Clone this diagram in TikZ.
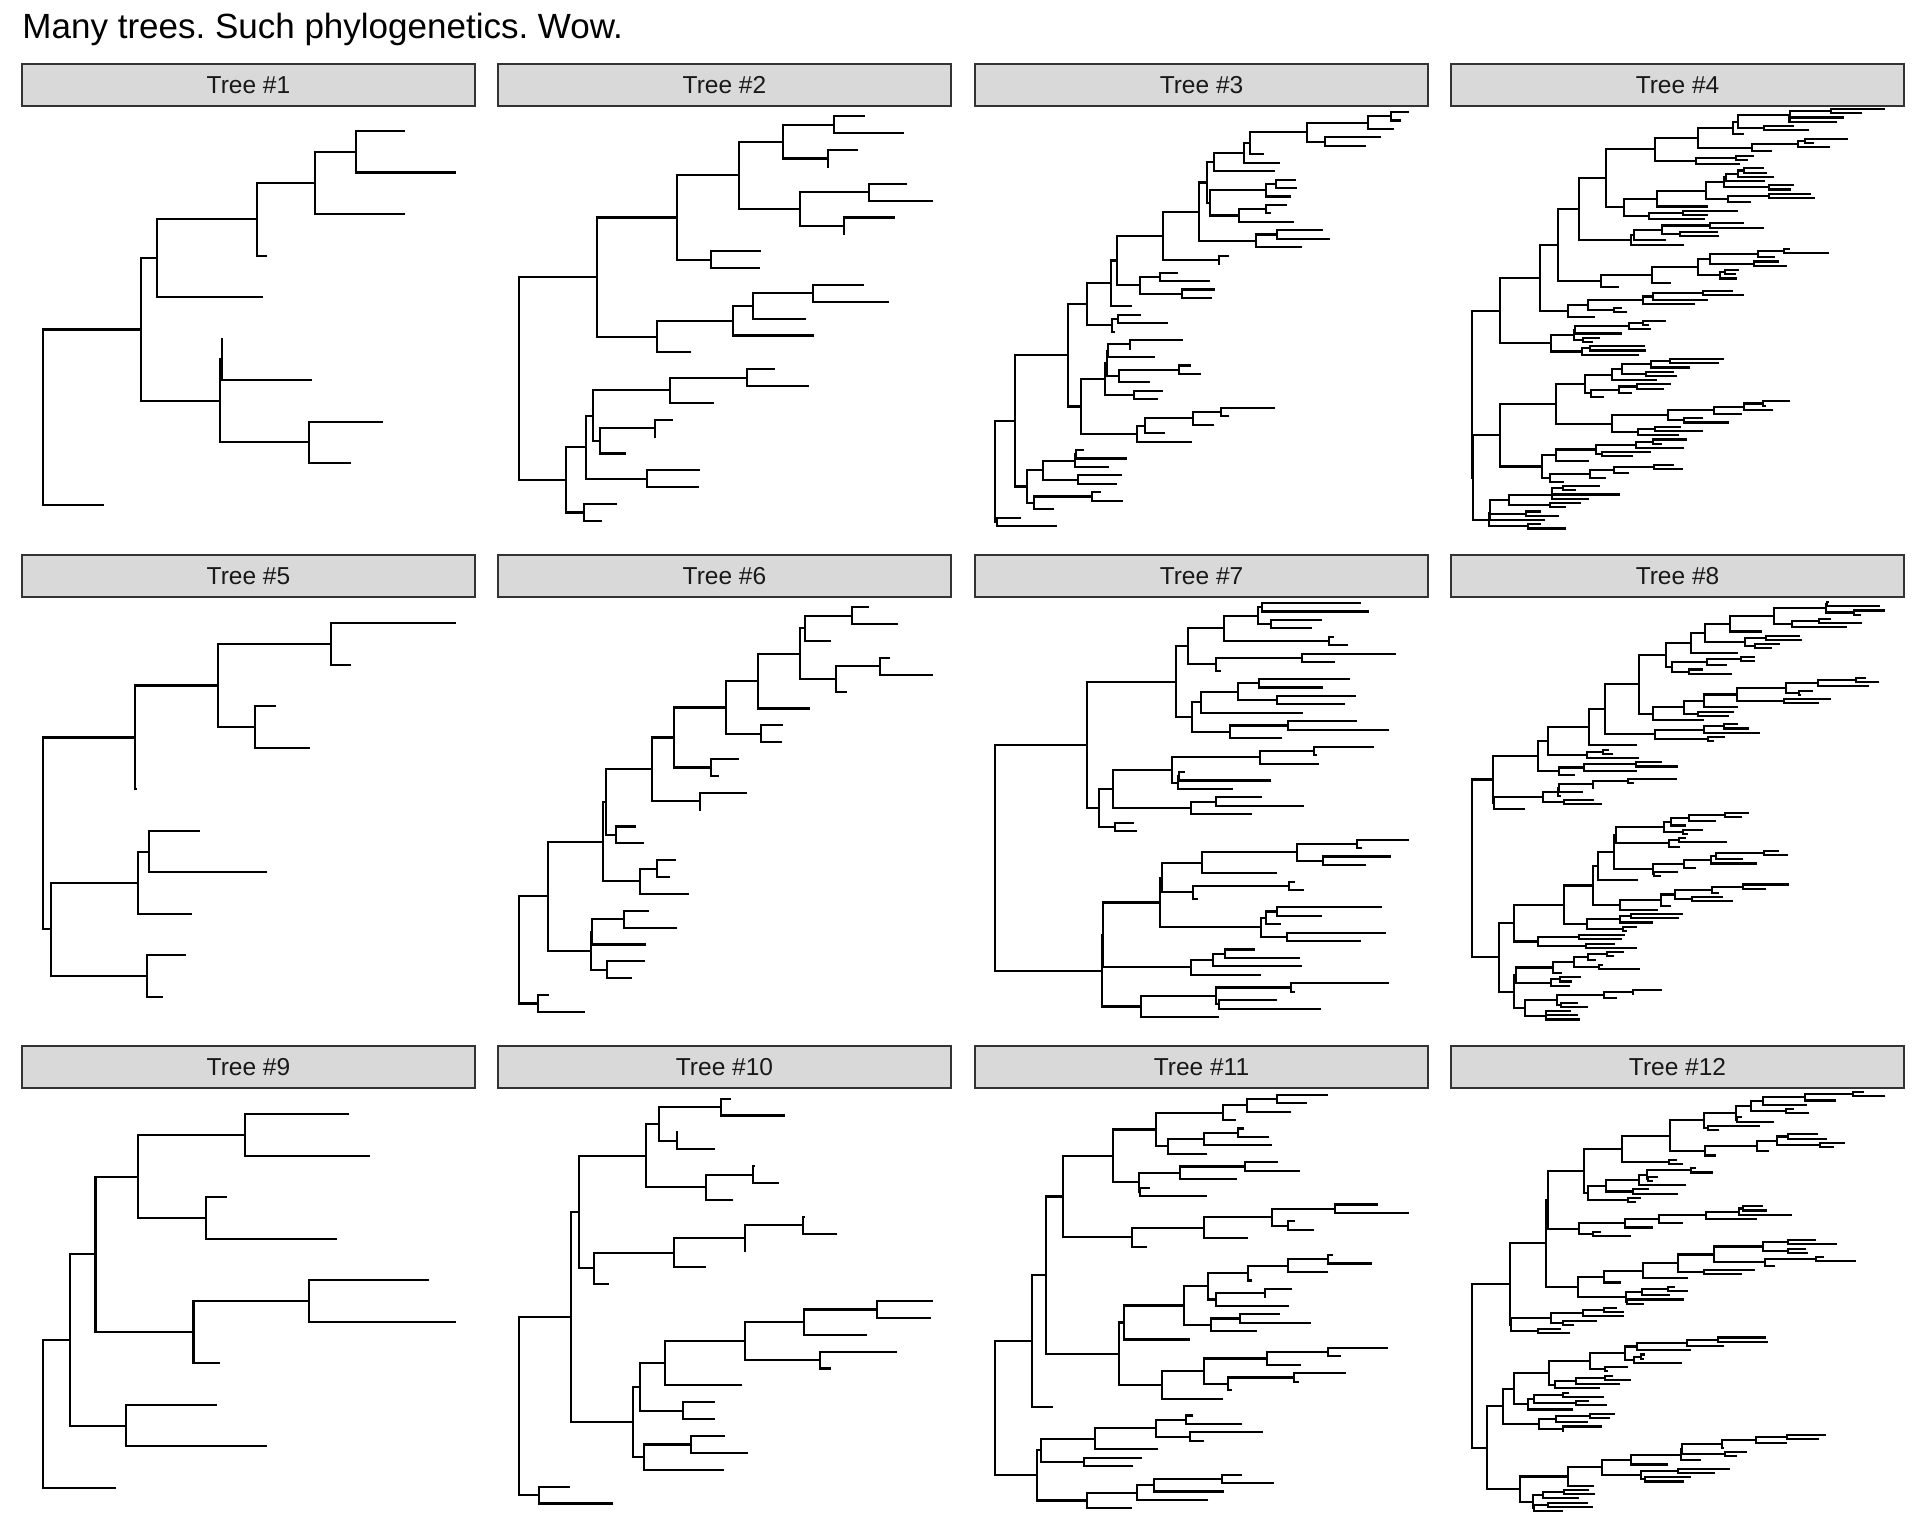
\documentclass[tikz,border=0pt]{standalone}
\usepackage{fontspec}
\setmainfont{Liberation Sans}
\frenchspacing
\definecolor{stripfill}{HTML}{D9D9D9}
\definecolor{stripdraw}{HTML}{333333}
\newcount\tipn
\def\tstk{}
\def\tystart{0}
\def\tystep{1}
\newcommand\TreeInit[2]{\def\tystart{#1}\def\tystep{#2}\global\tipn=0 \def\tstk{}}
\newcommand\lf[1]{\pgfmathsetmacro\tmpy{\tystart+\the\tipn*\tystep}\global\advance\tipn by 1 \edef\tstk{{#1}{\tmpy}\tstk}}
\newcommand\nd[1]{\expandafter\popN\tstk\relax{#1}}
\def\popN#1#2#3#4#5\relax#6{\draw[treeline] (#1,#2) -| (#6,#4) -- (#3,#4);\pgfmathsetmacro\tmpy{(#2+#4)/2}\edef\tstk{{#6}{\tmpy}#5}}
\tikzset{
  treeline/.style={line width=0.85pt, line cap=butt, line join=miter, black},
  strip/.style={fill=stripfill, draw=stripdraw, line width=0.5pt},
  striptext/.style={font=\fontsize{9.8}{11}\selectfont, inner sep=0pt, text=black!90},
}
\begin{document}
\begin{tikzpicture}[x=0.4pt,y=-0.4pt]
\fill[white] (0,0) rectangle (1920,1536);
\useasboundingbox (0,0) rectangle (1920,1536);
\node[anchor=base west, inner sep=0pt, font=\fontsize{14}{16}\selectfont] (title) at (22,38) {Many trees. Such phylogenetics. Wow.};
\foreach \c/\xa in {0/22,1/498,2/975,3/1451}{
 \foreach \r/\ya in {0/64,1/555,2/1046}{
  \pgfmathtruncatemacro\n{\r*4+\c+1}
  \draw[strip] (\xa,\ya) rectangle ++(453,42);
  \node[striptext] (h\n) at (\xa+226.5,\ya+21) {Tree \#\n};
 }}
% ---- Tree 1
\begin{scope}[scale=1.2245]
\TreeInit{107}{33.9}
\lf{331}\lf{372}\nd{291}\lf{331}\nd{257}\lf{218}\nd{210}\lf{215}\nd{128}\lf{182}\lf{255}\nd{181}\lf{313}\lf{287}\nd{252}\nd{180}\nd{115}\lf{85}\nd{35}
\end{scope}
% ---- Tree 5
\begin{scope}[scale=1.2245]
\TreeInit{509}{33.9}
\lf{372}\lf{287}\nd{270}\lf{225}\lf{253}\nd{208}\nd{178}\lf{112}\nd{110}\lf{163}\lf{218}\nd{122}\lf{157}\nd{113}\lf{152}\lf{133}\nd{120}\nd{42}\nd{35}
\end{scope}
% ---- Tree 9
\begin{scope}[scale=1.2245]
\TreeInit{910}{33.9}
\lf{285}\lf{302}\nd{200}\lf{185}\lf{275}\nd{168}\nd{113}\lf{350}\lf{372}\nd{252}\lf{180}\nd{158}\nd{78}\lf{177}\lf{218}\nd{103}\nd{57}\lf{95}\nd{35}
\end{scope}
% ---- Tree 2
\begin{scope}[shift={(498,110)},scale=1/3]
\TreeInit{19}{50.58}
\lf{1100}\lf{1218}\nd{1008}\lf{1080}\lf{993}\nd{990}\nd{856}\lf{1228}\lf{1305}\nd{1113}\lf{1192}\lf{1041}\nd{1038}\nd{905}\nd{722}\lf{790}\lf{786}\nd{639}\nd{538}\lf{1098}\lf{1173}\nd{945}\lf{925}\nd{765}\lf{948}\nd{706}\lf{578}\nd{476}\nd{298}\lf{832}\lf{932}\nd{747}\lf{647}\nd{516}\lf{526}\lf{472}\nd{471}\lf{383}\nd{305}\nd{284}\lf{605}\lf{603}\nd{447}\nd{263}\lf{357}\lf{312}\nd{258}\nd{204}\nd{62}
\end{scope}
% ---- Tree 6
\begin{scope}[shift={(498,601)},scale=1/3]
\TreeInit{19}{50.58}
\lf{1112}\lf{1200}\nd{1062}\lf{1000}\nd{922}\lf{1177}\lf{1305}\nd{1147}\lf{1046}\nd{1013}\nd{907}\lf{935}\nd{779}\lf{855}\lf{853}\nd{789}\nd{684}\lf{722}\lf{662}\nd{640}\nd{527}\lf{747}\lf{609}\nd{606}\nd{461}\lf{413}\lf{438}\nd{353}\nd{323}\lf{533}\lf{515}\nd{477}\lf{573}\nd{427}\nd{314}\lf{453}\lf{537}\nd{379}\lf{443}\nd{283}\lf{440}\lf{401}\nd{326}\nd{278}\nd{150}\lf{152}\lf{260}\nd{121}\nd{62}
\end{scope}
% ---- Tree 10
\begin{scope}[shift={(498,1092)},scale=1/3]
\TreeInit{20}{50.6}
\lf{700}\lf{862}\nd{669}\lf{540}\lf{652}\nd{537}\nd{484}\lf{770}\lf{842}\nd{766}\lf{705}\nd{625}\nd{443}\lf{920}\lf{1017}\nd{916}\lf{744}\nd{742}\lf{625}\nd{527}\lf{333}\nd{288}\nd{242}\lf{1305}\lf{1298}\nd{1136}\lf{1108}\nd{918}\lf{1197}\lf{1000}\nd{967}\nd{742}\lf{733}\nd{501}\lf{652}\lf{650}\nd{556}\nd{425}\lf{682}\lf{750}\nd{578}\lf{678}\nd{438}\nd{404}\nd{220}\lf{215}\lf{345}\nd{124}\nd{62}
\end{scope}
% ---- Tree 3
\begin{scope}[shift={(975,110)},scale=1/3]
\TreeInit{6}{25.35}
\lf{1303}\lf{1277}\nd{1248}\lf{1258}\nd{1178}\lf{1218}\lf{1172}\nd{1050}\nd{995}\lf{868}\nd{825}\lf{915}\nd{808}\lf{900}\nd{718}\lf{962}\lf{965}\nd{903}\lf{948}\nd{873}\lf{937}\lf{887}\nd{873}\lf{956}\nd{792}\nd{705}\nd{697}\lf{1043}\lf{1065}\nd{907}\lf{982}\nd{843}\nd{672}\lf{763}\lf{733}\nd{731}\nd{563}\lf{610}\lf{706}\nd{555}\lf{719}\lf{710}\nd{620}\nd{496}\nd{425}\lf{470}\nd{408}\lf{497}\lf{578}\nd{428}\lf{420}\nd{411}\nd{336}\lf{625}\lf{468}\nd{465}\lf{540}\nd{400}\lf{648}\lf{677}\nd{612}\lf{525}\nd{433}\nd{396}\lf{565}\lf{548}\nd{477}\nd{390}\lf{900}\lf{763}\nd{737}\lf{718}\nd{655}\lf{570}\nd{510}\lf{650}\nd{487}\nd{318}\nd{278}\lf{326}\lf{455}\nd{302}\lf{402}\nd{300}\lf{440}\lf{425}\nd{308}\nd{205}\lf{378}\lf{443}\nd{350}\lf{237}\nd{178}\nd{155}\nd{120}\lf{138}\lf{245}\nd{66}\nd{60}
\end{scope}
% ---- Tree 7
\begin{scope}[shift={(975,601)},scale=1/3]
\TreeInit{6}{25.35}
\lf{1157}\lf{1182}\nd{862}\lf{1040}\lf{1012}\nd{888}\nd{848}\lf{1078}\lf{1118}\nd{1063}\nd{748}\lf{1262}\lf{1080}\nd{982}\lf{738}\nd{724}\nd{640}\lf{1125}\lf{1043}\nd{852}\lf{1142}\lf{1110}\nd{907}\nd{790}\lf{983}\nd{678}\lf{1147}\lf{1243}\nd{940}\lf{922}\nd{765}\nd{652}\nd{604}\lf{1197}\lf{1025}\nd{1017}\lf{1032}\nd{856}\lf{630}\lf{889}\nd{612}\lf{773}\nd{610}\nd{592}\lf{862}\lf{987}\nd{722}\lf{832}\nd{648}\nd{415}\lf{478}\lf{487}\nd{420}\nd{372}\nd{335}\lf{1303}\lf{1160}\nd{1147}\lf{1247}\lf{1172}\nd{1043}\nd{967}\lf{905}\nd{680}\lf{960}\lf{988}\nd{943}\lf{668}\nd{655}\nd{562}\lf{1220}\lf{1040}\nd{905}\lf{918}\nd{873}\lf{1232}\lf{1157}\nd{935}\nd{857}\nd{555}\lf{840}\lf{975}\nd{750}\lf{980}\nd{715}\lf{857}\nd{648}\nd{385}\lf{1243}\lf{960}\nd{947}\lf{905}\lf{1037}\nd{733}\nd{722}\lf{733}\nd{497}\nd{380}\nd{60}
\end{scope}
% ---- Tree 11
\begin{scope}[shift={(975,1092)},scale=1/3]
\TreeInit{8}{25.33}
\lf{1060}\lf{995}\nd{905}\lf{948}\nd{815}\lf{782}\nd{745}\lf{808}\lf{883}\nd{788}\lf{892}\nd{688}\lf{697}\nd{578}\nd{542}\lf{908}\lf{975}\nd{810}\lf{785}\nd{616}\lf{525}\lf{695}\nd{495}\nd{492}\nd{415}\lf{1208}\lf{1302}\nd{1080}\lf{960}\lf{1018}\nd{940}\nd{890}\lf{818}\nd{687}\lf{517}\nd{472}\nd{263}\lf{1075}\lf{1190}\nd{1060}\lf{1060}\nd{940}\lf{832}\nd{818}\lf{952}\lf{872}\nd{870}\lf{942}\nd{722}\nd{700}\lf{915}\lf{1008}\nd{795}\lf{847}\nd{707}\nd{628}\lf{645}\nd{446}\lf{1240}\lf{1097}\nd{1058}\lf{978}\nd{877}\lf{1112}\lf{972}\nd{957}\lf{772}\nd{760}\nd{687}\lf{745}\nd{560}\nd{433}\nd{213}\lf{233}\nd{172}\lf{655}\lf{802}\nd{632}\lf{863}\lf{687}\nd{645}\nd{543}\lf{548}\nd{360}\lf{500}\lf{475}\nd{328}\nd{197}\lf{802}\lf{897}\nd{742}\lf{748}\nd{537}\lf{700}\nd{485}\lf{470}\nd{336}\nd{187}\nd{60}
\end{scope}
% ---- Tree 4
\begin{scope}[shift={(1451,105)},scale=1/3]
\TreeInit{12}{12.71}
\lf{1303}\lf{1233}\nd{1140}\lf{1178}\lf{1157}\nd{1015}\nd{1017}\lf{1030}\lf{1075}\nd{940}\nd{862}\lf{880}\nd{845}\lf{1190}\lf{1088}\nd{1062}\lf{1138}\nd{1040}\lf{962}\nd{903}\nd{740}\lf{908}\lf{890}\nd{855}\lf{868}\nd{735}\nd{613}\lf{938}\lf{948}\nd{880}\lf{968}\nd{860}\lf{943}\nd{825}\lf{1030}\lf{1020}\nd{955}\nd{820}\lf{1080}\lf{1093}\nd{955}\lf{900}\nd{830}\nd{765}\lf{770}\nd{617}\lf{862}\lf{770}\nd{695}\lf{763}\nd{595}\nd{520}\nd{465}\lf{878}\lf{940}\nd{777}\lf{800}\lf{805}\nd{688}\nd{632}\lf{645}\nd{550}\lf{700}\nd{540}\nd{383}\lf{1018}\lf{1135}\nd{1000}\lf{972}\nd{920}\lf{985}\lf{1007}\nd{910}\nd{778}\lf{865}\lf{855}\nd{822}\lf{858}\nd{808}\nd{740}\lf{660}\nd{603}\lf{503}\nd{450}\nd{320}\lf{845}\lf{878}\nd{755}\lf{770}\nd{607}\lf{733}\nd{575}\lf{512}\lf{528}\nd{490}\nd{410}\lf{433}\nd{352}\nd{267}\lf{645}\lf{595}\nd{575}\lf{600}\nd{533}\lf{512}\nd{372}\lf{447}\lf{425}\nd{397}\nd{369}\lf{583}\lf{585}\nd{418}\lf{565}\nd{393}\nd{300}\nd{148}\lf{818}\lf{805}\nd{657}\lf{718}\nd{600}\lf{668}\lf{678}\nd{585}\nd{512}\lf{617}\nd{483}\lf{660}\lf{640}\nd{557}\lf{543}\nd{503}\lf{458}\nd{420}\nd{403}\lf{1018}\lf{945}\nd{935}\lf{967}\nd{880}\lf{873}\nd{788}\lf{755}\lf{835}\nd{700}\nd{652}\lf{690}\lf{757}\nd{612}\lf{685}\nd{560}\nd{483}\nd{315}\lf{708}\lf{632}\nd{607}\lf{700}\nd{555}\lf{600}\lf{545}\nd{453}\nd{435}\lf{413}\nd{315}\lf{670}\lf{695}\nd{608}\lf{533}\nd{488}\lf{465}\nd{417}\lf{338}\nd{298}\nd{272}\nd{148}\lf{448}\lf{375}\nd{337}\lf{508}\nd{303}\lf{413}\nd{302}\lf{390}\lf{345}\nd{298}\nd{175}\lf{270}\lf{325}\nd{225}\nd{118}\lf{282}\nd{116}\lf{270}\lf{345}\nd{232}\nd{115}\nd{66}\nd{62}
\end{scope}
% ---- Tree 8
\begin{scope}[shift={(1451,596)},scale=1/3]
\TreeInit{18}{12.65}
\lf{1135}\lf{1288}\nd{1127}\lf{1303}\lf{1230}\nd{1210}\nd{1125}\lf{1140}\lf{1233}\nd{1105}\lf{1188}\nd{1023}\nd{970}\lf{933}\nd{838}\lf{1048}\lf{1053}\nd{945}\lf{988}\lf{963}\nd{913}\nd{883}\nd{763}\lf{860}\nd{720}\lf{912}\lf{912}\nd{870}\lf{828}\nd{768}\lf{755}\lf{843}\nd{713}\nd{663}\nd{645}\lf{1245}\lf{1285}\nd{1215}\lf{1253}\nd{1100}\lf{1085}\lf{1050}\nd{1045}\nd{1005}\lf{1140}\lf{1105}\nd{1000}\nd{857}\lf{860}\nd{760}\lf{850}\lf{833}\nd{740}\nd{700}\lf{758}\nd{605}\nd{565}\lf{862}\lf{893}\nd{820}\lf{928}\nd{760}\lf{822}\lf{790}\nd{770}\nd{612}\nd{463}\lf{557}\nd{413}\lf{473}\lf{485}\nd{457}\lf{565}\nd{407}\nd{290}\lf{632}\lf{682}\nd{555}\lf{558}\nd{400}\lf{372}\nd{325}\nd{262}\lf{678}\lf{550}\nd{530}\lf{428}\nd{425}\lf{395}\nd{325}\lf{330}\nd{322}\lf{430}\lf{452}\nd{338}\nd{275}\lf{222}\nd{130}\nd{125}\lf{895}\lf{872}\nd{822}\lf{795}\nd{715}\lf{705}\nd{660}\lf{757}\lf{710}\nd{697}\nd{638}\lf{705}\lf{828}\nd{685}\lf{688}\nd{655}\nd{495}\lf{985}\lf{1012}\nd{938}\lf{875}\nd{795}\lf{917}\nd{780}\lf{735}\nd{700}\lf{680}\lf{630}\nd{608}\nd{605}\nd{488}\lf{560}\nd{440}\lf{1015}\lf{945}\nd{875}\lf{803}\nd{783}\lf{815}\lf{845}\nd{723}\nd{672}\lf{660}\nd{630}\lf{620}\nd{507}\nd{425}\lf{695}\lf{685}\nd{540}\lf{605}\nd{508}\lf{558}\lf{528}\nd{515}\nd{408}\nd{340}\lf{522}\lf{512}\nd{385}\lf{493}\lf{557}\nd{405}\nd{262}\nd{188}\lf{520}\lf{490}\nd{467}\lf{435}\nd{412}\lf{455}\lf{567}\nd{443}\nd{370}\lf{332}\nd{305}\lf{390}\lf{363}\nd{328}\lf{357}\nd{300}\nd{195}\lf{632}\lf{548}\nd{545}\lf{497}\nd{460}\lf{382}\lf{410}\nd{330}\nd{317}\lf{360}\lf{382}\nd{286}\lf{387}\nd{284}\nd{222}\nd{188}\nd{145}\nd{62}
\end{scope}
% ---- Tree 12
\begin{scope}[shift={(1451,1087)},scale=1/3]
\TreeInit{15}{12.7}
\lf{1240}\lf{1303}\nd{1205}\lf{1155}\nd{1063}\lf{1068}\nd{935}\lf{1028}\lf{1075}\nd{1005}\nd{900}\lf{873}\lf{970}\nd{858}\nd{855}\lf{928}\lf{805}\nd{770}\nd{760}\lf{1100}\lf{1128}\nd{1010}\lf{1183}\lf{1150}\nd{1108}\nd{978}\lf{953}\nd{918}\lf{795}\nd{763}\nd{657}\lf{677}\lf{697}\nd{655}\nd{512}\lf{735}\lf{785}\nd{720}\lf{622}\lf{605}\nd{592}\nd{588}\lf{705}\nd{563}\lf{595}\lf{680}\nd{545}\nd{465}\lf{570}\lf{555}\nd{530}\nd{410}\nd{400}\lf{935}\lf{948}\nd{875}\lf{1023}\nd{865}\lf{917}\nd{765}\lf{695}\nd{625}\lf{605}\nd{522}\lf{450}\lf{540}\nd{425}\nd{383}\nd{290}\lf{1095}\lf{1158}\nd{1010}\lf{1065}\lf{1070}\nd{1010}\nd{935}\lf{1118}\lf{1215}\nd{1095}\lf{972}\nd{942}\nd{788}\lf{913}\lf{872}\nd{758}\nd{680}\lf{710}\nd{575}\lf{510}\nd{460}\lf{672}\lf{710}\nd{650}\lf{657}\nd{572}\lf{700}\lf{578}\nd{528}\nd{525}\nd{380}\nd{286}\lf{498}\lf{518}\nd{460}\lf{520}\nd{397}\lf{437}\lf{370}\nd{335}\nd{300}\lf{330}\lf{357}\nd{262}\nd{180}\nd{178}\lf{945}\lf{952}\nd{800}\lf{820}\nd{708}\lf{720}\nd{558}\lf{583}\lf{578}\nd{570}\lf{693}\nd{548}\nd{522}\lf{530}\lf{470}\nd{463}\nd{417}\lf{485}\lf{540}\nd{463}\lf{508}\nd{375}\lf{448}\nd{312}\nd{295}\lf{355}\lf{458}\nd{337}\lf{413}\lf{468}\nd{375}\nd{248}\lf{367}\nd{230}\nd{188}\lf{493}\lf{477}\nd{418}\lf{410}\nd{315}\lf{452}\lf{338}\nd{335}\nd{263}\nd{155}\lf{1125}\lf{1105}\nd{1008}\lf{1008}\nd{915}\lf{818}\nd{813}\lf{887}\lf{858}\nd{823}\nd{693}\lf{750}\nd{690}\lf{652}\nd{540}\lf{838}\lf{792}\nd{680}\lf{720}\lf{700}\nd{582}\nd{570}\nd{452}\lf{430}\nd{352}\lf{413}\lf{433}\nd{340}\lf{383}\nd{275}\lf{410}\lf{425}\nd{292}\lf{335}\nd{250}\nd{245}\nd{207}\nd{108}\nd{62}
\end{scope}
\end{tikzpicture}
\end{document}
